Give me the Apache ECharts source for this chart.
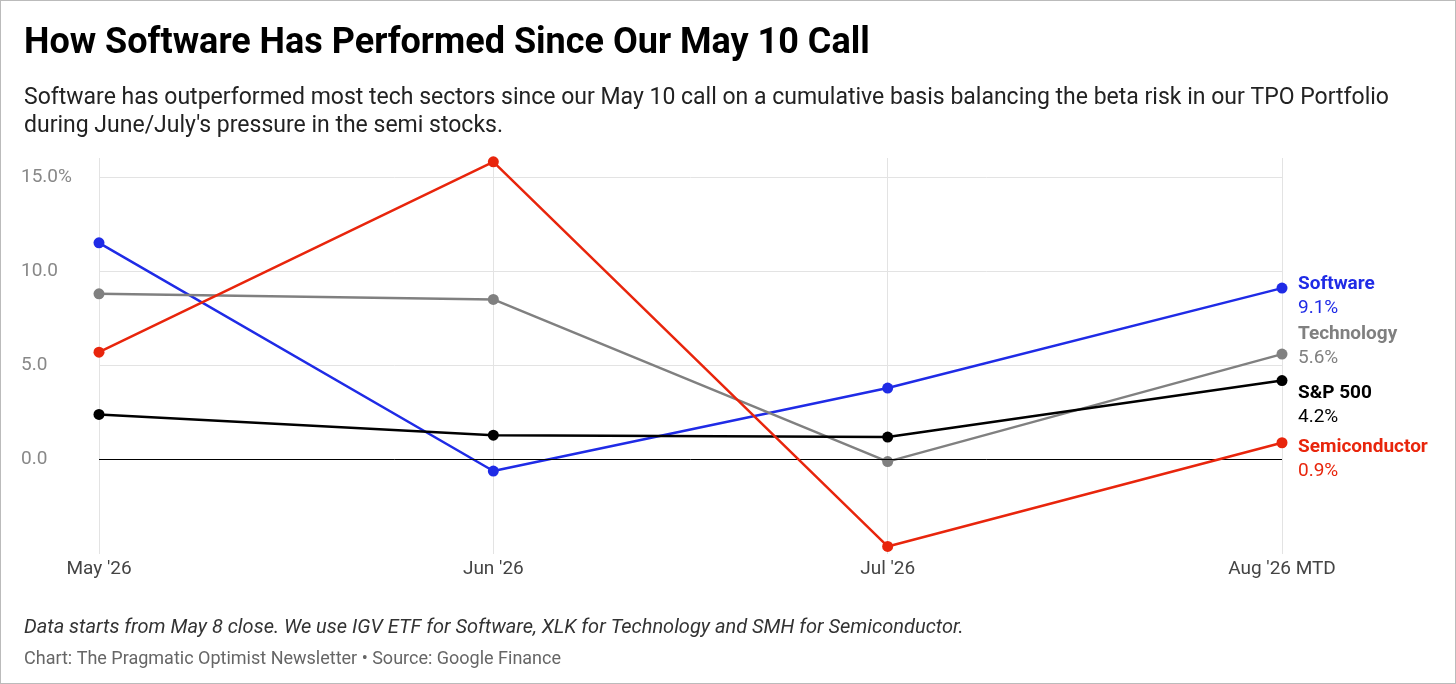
<!DOCTYPE html>
<html><head><meta charset="utf-8">
<script src="https://cdn.jsdelivr.net/npm/echarts@6/dist/echarts.min.js"></script>
<style>html,body{margin:0;padding:0;background:#fff}#main{width:1456px;height:684px;box-sizing:border-box;border:1px solid #bbb}</style>
</head><body><div id="main"></div>
<script>
var months = ["May '26", "Jun '26", "Jul '26", "Aug '26 MTD"];
var software = [11.5, -0.6, 3.8, 9.1];
var technology = [8.8, 8.5, -0.1, 5.6];
var sp500 = [2.4, 1.3, 1.2, 4.2];
var semis = [5.7, 15.8, -4.6, 0.9];

var chart = echarts.init(document.getElementById("main"));
var font = "Roboto";

function mk(name, data, color, dy) {
  return {
    name: name, type: "line", data: data, symbol: "circle", symbolSize: 11,
    lineStyle: { color: color, width: 2.5 }, itemStyle: { color: color },
    z: name === "Semiconductor" ? 5 : 3,
    endLabel: {
      show: true, offset: [8, dy], fontFamily: font, lineHeight: 24,
      formatter: function (p) { return "{n|" + name + "}\n{v|" + p.value.toFixed(1) + "%}"; },
      rich: {
        n: { color: color, fontWeight: "bold", fontSize: 19, fontFamily: font, lineHeight: 24 },
        v: { color: color, fontSize: 19, fontFamily: font, lineHeight: 24 }
      }
    }
  };
}

chart.setOption({
  animation: false,
  title: [
    { text: "How Software Has Performed Since Our May 10 Call", left: 18, top: 20,
      textStyle: { fontFamily: font, fontSize: 36, fontWeight: "bold", color: "#000" } },
    { text: "Software has outperformed most tech sectors since our May 10 call on a cumulative basis balancing the beta risk in our TPO Portfolio\nduring June/July's pressure in the semi stocks.",
      left: 18, top: 78, textStyle: { fontFamily: font, fontSize: 23, fontWeight: "normal", color: "#222", lineHeight: 28 } },
    { text: "Data starts from May 8 close. We use IGV ETF for Software, XLK for Technology and SMH for Semiconductor.",
      left: 18, top: 612, textStyle: { fontFamily: font, fontSize: 20, fontStyle: "italic", fontWeight: "normal", color: "#333" } },
    { text: "Chart: The Pragmatic Optimist Newsletter • Source: Google Finance",
      left: 18, top: 644, textStyle: { fontFamily: font, fontSize: 18, fontWeight: "normal", color: "#666" } }
  ],
  grid: { left: 98, right: 173, top: 157, height: 396 },
  xAxis: {
    type: "category", data: months, boundaryGap: false,
    axisLine: { show: false }, axisTick: { show: false },
    axisLabel: { fontFamily: font, fontSize: 19, color: "#444", margin: 6 },
    splitLine: { show: true, lineStyle: { color: "#e3e3e3" } }
  },
  yAxis: {
    type: "value", min: -5, max: 16, interval: 5,
    axisLine: { show: false }, axisTick: { show: false },
    axisLabel: { fontFamily: font, fontSize: 19, color: "#888", align: "left", margin: 78,
      formatter: function (v) { return (v === -5 || v === 16) ? "" : (v === 15 ? "15.0%" : v.toFixed(1)); } },
    splitLine: { show: true, showMinLine: false, showMaxLine: false, lineStyle: { color: "#e3e3e3" } }
  },
  series: [
    Object.assign(mk("Software", software, "#1f2be6", 8), {
      markLine: { silent: true, symbol: "none", label: { show: false },
        lineStyle: { color: "#000", width: 1, type: "solid" }, data: [{ yAxis: 0 }] } }),
    mk("Technology", technology, "#808080", -8),
    mk("S&P 500", sp500, "#000000", 25),
    mk("Semiconductor", semis, "#e8250c", 17)
  ]
});
</script></body></html>
